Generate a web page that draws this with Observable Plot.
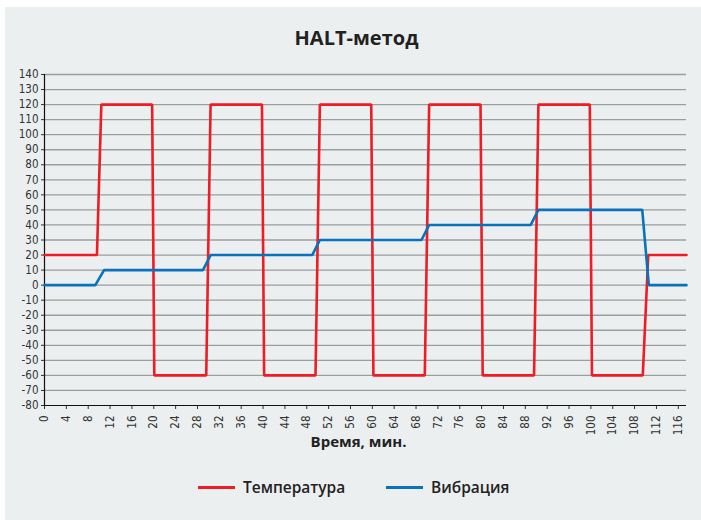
<!DOCTYPE html>
<html><head><meta charset="utf-8">
<script src="https://cdn.jsdelivr.net/npm/d3@7"></script>
<script src="https://cdn.jsdelivr.net/npm/@observablehq/plot@0.6"></script>
<style>
body{margin:0;background:#fff;width:701px;height:520px;overflow:hidden;position:relative;font-family:"Open Sans","Noto Sans",sans-serif;}
#card{position:absolute;left:5px;top:7px;width:696px;height:513px;background:#ECEFF0;}
#title{position:absolute;left:0;width:701px;top:24px;text-align:center;font-size:20px;font-weight:700;color:#222;padding-left:6px;}
#chart{position:absolute;left:0;top:60px;}
#xlabel{position:absolute;left:0;width:701px;top:431px;text-align:center;font-size:15px;font-weight:700;color:#222;padding-left:8px;}
#legend{position:absolute;top:476px;left:0;width:701px;font-size:15.5px;font-weight:600;color:#222;}
.li{position:absolute;display:flex;align-items:center;}
.sw{display:inline-block;width:37px;height:3px;margin-right:8px;}
</style></head><body>
<div id="card"></div>
<div id="title">HALT-метод</div>
<div id="chart"></div>
<div id="xlabel">Время, мин.</div>
<div id="legend">
<div class="li" style="left:198px"><span class="sw" style="background:#EE1C25"></span>Температура</div>
<div class="li" style="left:386px"><span class="sw" style="background:#0A72BA"></span>Вибрация</div>
</div>
<script>
const tempTime = [0,9.6,10.4,19.7,20.1,29.6,30.4,39.8,40.2,49.6,50.4,59.8,60.2,69.6,70.4,79.8,80.2,89.6,90.4,99.8,100.2,109.5,110.5,117.5];
const tempVal  = [20,20,120,120,-60,-60,120,120,-60,-60,120,120,-60,-60,120,120,-60,-60,120,120,-60,-60,20,20];
const vibTime = [0,9.3,10.9,29,30.4,49,50.4,69,70.4,89,90.4,109.4,110.6,117.5];
const vibVal  = [0,0,10,10,20,20,30,30,40,40,50,50,0,0];
const xTicks = d3.range(0,117,4);
const yTicks = d3.range(-80,141,10);

const temp = tempTime.map((t,i)=>({t,v:tempVal[i]}));
const vib = vibTime.map((t,i)=>({t,v:vibVal[i]}));

const plot = Plot.plot({
  width:701, height:385,
  marginLeft:44, marginRight:15, marginTop:14, marginBottom:40,
  style:{background:"transparent", fontFamily:"'Liberation Sans Narrow','DejaVu Sans Condensed',sans-serif", fontSize:"11px", color:"#333"},
  x:{domain:[0,117.5], label:null},
  y:{domain:[-80,140], label:null},
  marks:[
    Plot.ruleY(yTicks.filter(d=>d>-80), {stroke:"#9A9EA0", strokeWidth:1.3, strokeOpacity:1}),
    Plot.axisY({ticks:yTicks, tickSize:3, tickPadding:3, fontSize:11.5, label:null, tickFormat:d=>String(d)}),
    Plot.axisX({ticks:xTicks, tickSize:4, tickPadding:6, tickRotate:-90, fontSize:11.5, label:null, tickFormat:d=>String(d)}),
    Plot.ruleX([0], {stroke:"#111", strokeWidth:1.2}),
    Plot.ruleY([-80], {stroke:"#111", strokeWidth:1.2}),
    Plot.line(temp, {x:"t", y:"v", stroke:"#EE1C25", strokeWidth:2.6, strokeLinejoin:"miter"}),
    Plot.line(vib, {x:"t", y:"v", stroke:"#0A72BA", strokeWidth:2.6, strokeLinejoin:"miter"})
  ]
});
document.getElementById("chart").appendChild(plot);
</script>
</body></html>
